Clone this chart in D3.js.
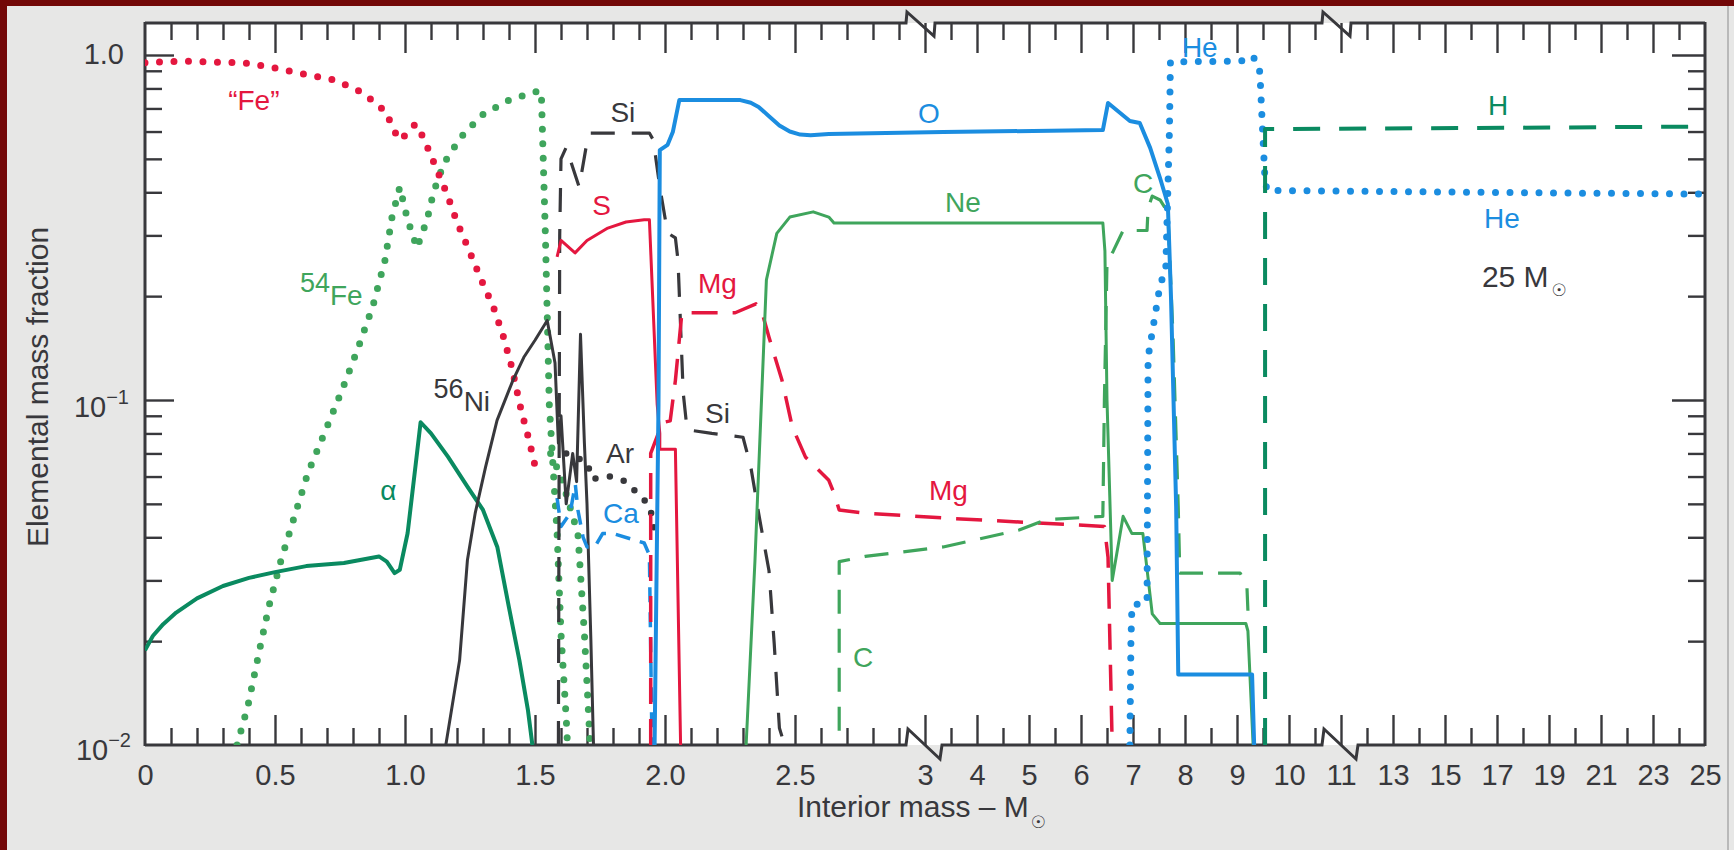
<!DOCTYPE html>
<html>
<head>
<meta charset="utf-8">
<script src="https://cdn.jsdelivr.net/npm/d3@7"></script>
<style>
html, body { margin: 0; padding: 0; background: #730808; }
svg { display: block; }
text { font-family: "Liberation Sans", Arial, Helvetica, sans-serif; }
</style>
</head>
<body>
<svg id="chart" width="1734" height="850"></svg>
<script>
// --- data: [interior mass (Msun), mass fraction] ---
var FE = [[0,0.95],[0.15,0.96],[0.385,0.948],[0.5,0.917],[0.61,0.881],[0.73,0.846],[0.84,0.776],
  [0.93,0.68],[0.95,0.618],[0.98,0.567],[1.01,0.594],[1.04,0.631],[1.07,0.578],[1.115,0.48],[1.16,0.398],
  [1.2,0.328],[1.246,0.272],[1.29,0.226],[1.34,0.186],[1.377,0.154],[1.41,0.125],[1.446,0.094],
  [1.477,0.0766],[1.504,0.0626]];
var FE54 = [[0.354,0.01],[0.396,0.013],[0.442,0.0191],[0.477,0.0253],[0.523,0.0343],[0.573,0.0455],
  [0.627,0.0616],[0.692,0.0808],[0.758,0.107],[0.819,0.141],[0.877,0.188],[0.923,0.254],[0.95,0.339],
  [0.98,0.414],[1.01,0.333],[1.046,0.276],[1.085,0.333],[1.11,0.401],[1.15,0.486],[1.215,0.578],
  [1.296,0.67],[1.4,0.74],[1.52,0.79],[1.525,0.75],[1.54,0.3],[1.555,0.097],[1.585,0.041],[1.6,0.021],
  [1.62,0.012],[1.625,0.01]];
var FE54_INNER = [[1.56,0.07],[1.6,0.06],[1.665,0.041],[1.69,0.021],[1.71,0.0108],[1.712,0.01]];
var ALPHA = [[0,0.0188],[0.03,0.0207],[0.07,0.0224],[0.12,0.0242],[0.2,0.0266],[0.3,0.0289],[0.4,0.0305],
  [0.5,0.0317],[0.62,0.033],[0.765,0.0337],[0.9,0.0352],[0.93,0.034],[0.96,0.0315],[0.98,0.0322],
  [1.01,0.0411],[1.04,0.064],[1.06,0.0862],[1.1,0.08],[1.165,0.0685],[1.24,0.0561],[1.3,0.048],
  [1.355,0.0375],[1.4,0.025],[1.44,0.0176],[1.473,0.0126],[1.49,0.01]];
var NI56 = [[1.157,0.01],[1.21,0.0176],[1.24,0.0343],[1.27,0.047],[1.31,0.064],[1.354,0.0873],
  [1.415,0.114],[1.457,0.133],[1.5,0.149],[1.547,0.17],[1.577,0.128],[1.59,0.075],[1.6,0.09],[1.62,0.05],
  [1.645,0.07],[1.66,0.058],[1.675,0.155],[1.69,0.075],[1.7,0.05],[1.715,0.02],[1.725,0.01]];
var SI = [[1.59,0.01],[1.595,0.3],[1.6,0.5],[1.62,0.54],[1.67,0.414],[1.7,0.56],[1.71,0.594],[1.94,0.594],
  [1.955,0.567],[1.98,0.414],[2.01,0.305],[2.04,0.295],[2.05,0.254],[2.07,0.105],[2.085,0.082],[2.18,0.08],
  [2.3,0.078],[2.33,0.064],[2.36,0.047],[2.4,0.032],[2.42,0.0197],[2.44,0.0112],[2.46,0.01]];
var S = [[1.585,0.26],[1.6,0.29],[1.654,0.267],[1.7,0.29],[1.78,0.315],[1.85,0.328],[1.92,0.333],
  [1.94,0.333],[1.97,0.097],[1.98,0.08],[1.98,0.072],[2.04,0.072],[2.06,0.01]];
var AR = [[1.62,0.07],[1.66,0.068],[1.7,0.066],[1.72,0.059],[1.79,0.06],[1.85,0.058],[1.89,0.054],
  [1.935,0.05],[1.955,0.045],[1.96,0.04]];
var CA = [[1.585,0.052],[1.6,0.043],[1.635,0.047],[1.655,0.057],[1.665,0.048],[1.685,0.04],[1.7,0.0375],
  [1.73,0.0375],[1.76,0.041],[1.8,0.041],[1.92,0.0385],[1.94,0.0355],[1.95,0.01]];
var MG = [[1.945,0.01],[1.945,0.07],[1.99,0.086],[2.02,0.087],[2.04,0.114],[2.065,0.179],[2.27,0.179],
  [2.35,0.19],[2.37,0.183],[2.4,0.152],[2.45,0.114],[2.49,0.0834],[2.54,0.0684],[2.63,0.0585],
  [2.65,0.0537],[2.67,0.048],[2.77,0.047],[3.35,0.0455],[4.81,0.0443],[6.45,0.043],[6.52,0.035],[6.6,0.01]];
var O = [[1.96,0.01],[1.975,0.097],[1.98,0.53],[2.01,0.549],[2.03,0.598],[2.055,0.74],[2.29,0.74],
  [2.33,0.727],[2.36,0.707],[2.4,0.665],[2.44,0.625],[2.48,0.6],[2.52,0.588],[2.56,0.585],[2.63,0.59],
  [3.35,0.598],[6.42,0.606],[6.52,0.726],[6.94,0.644],[7.13,0.635],[7.33,0.538],[7.52,0.44],[7.67,0.37],
  [7.73,0.2],[7.83,0.049],[7.87,0.016],[9.29,0.016],[9.33,0.01]];
var NE = [[2.312,0.01],[2.346,0.0342],[2.39,0.223],[2.43,0.304],[2.48,0.339],[2.57,0.351],[2.63,0.339],
  [2.65,0.326],[6.42,0.326],[6.46,0.27],[6.5,0.1],[6.6,0.03],[6.81,0.046],[6.98,0.041],[7.19,0.041],
  [7.37,0.024],[7.52,0.0225],[9.17,0.0225],[9.21,0.0214],[9.31,0.01]];
var C = [[2.67,0.011],[2.67,0.034],[2.77,0.0352],[3.35,0.0375],[4.81,0.042],[5.33,0.045],[6.42,0.046],
  [6.45,0.1],[6.5,0.25],[6.62,0.27],[6.81,0.31],[7.27,0.31],[7.29,0.36],[7.37,0.39],[7.52,0.38],
  [7.67,0.35],[7.77,0.153],[7.87,0.049],[7.9,0.0315],[9.06,0.0315],[9.19,0.029],[9.21,0.0245]];
var HE = [[6.94,0.01],[6.96,0.02],[6.98,0.0254],[7.27,0.026],[7.29,0.133],[7.52,0.215],[7.63,0.24],
  [7.7,0.6],[7.72,0.955],[9.0,0.96],[9.23,0.967],[9.3,0.99],[9.4,0.95],[9.44,0.89],[9.48,0.66],
  [9.54,0.43],[9.58,0.405],[25,0.395]];
var H = [[9.54,0.01],[9.54,0.61],[25,0.62]];

// tick labels along the broken mass axis
var X_TICK_VALUES = [0,0.5,1,1.5,2,2.5,3,4,5,6,7,8,9,10,11,13,15,17,19,21,23,25];
var X_TICK_LABELS = ["0","0.5","1.0","1.5","2.0","2.5","3","4","5","6","7","8","9","10","11","13","15","17","19","21","23","25"];
var Y_MAJOR = [1, 0.1];
var Y_MINOR = [0.9,0.8,0.7,0.6,0.5,0.4,0.3,0.2,0.09,0.08,0.07,0.06,0.05,0.04,0.03,0.02];

var RED = "#e4173f", BLUE = "#1b8de0", GREEN = "#3fa55c", DKGREEN = "#0a8a60", GREY = "#38383c";

var series = [
  {data: FE54, color: GREEN, style: "dot"},
  {data: FE54_INNER, color: GREEN, style: "dot"},
  {data: FE, color: RED, style: "dot"},
  {data: ALPHA, color: DKGREEN, style: "solid", w: 4},
  {data: NI56, color: GREY, style: "solid", w: 3},
  {data: AR, color: GREY, style: "dot", w: 6.5},
  {data: CA, color: BLUE, style: "dash", dash: "15 10", w: 3.5},
  {data: SI, color: GREY, style: "dash", dash: "24 17", w: 3.2},
  {data: S, color: RED, style: "solid", w: 3},
  {data: MG, color: RED, style: "dash", dash: "26 15", w: 3.5},
  {data: NE, color: GREEN, style: "solid", w: 3},
  {data: C, color: GREEN, style: "dash", dash: "24 15", w: 3.2},
  {data: O, color: BLUE, style: "solid", w: 4},
  {data: HE, color: BLUE, style: "dot"},
  {data: H, color: DKGREEN, style: "dash", dash: "27 19", w: 4}
];

var labels = [
  {t: "\u201CFe\u201D", x: 0.32, y: 0.693, c: RED},
  {t: "Fe", sup: "54", x: 0.596, y: 0.188, c: GREEN},
  {t: "\u03B1", x: 0.905, y: 0.0514, c: DKGREEN},
  {t: "Ni", sup: "56", x: 1.11, y: 0.0929, c: GREY},
  {t: "Si", x: 1.79, y: 0.64, c: GREY},
  {t: "S", x: 1.72, y: 0.344, c: RED},
  {t: "Ar", x: 1.773, y: 0.0656, c: GREY},
  {t: "Ca", x: 1.762, y: 0.0441, c: BLUE},
  {t: "Mg", x: 2.127, y: 0.204, c: RED},
  {t: "Si", x: 2.154, y: 0.0858, c: GREY},
  {t: "C", x: 2.723, y: 0.0168, c: GREEN},
  {t: "O", x: 2.973, y: 0.635, c: BLUE},
  {t: "Ne", x: 3.385, y: 0.35, c: GREEN},
  {t: "Mg", x: 3.077, y: 0.0514, c: RED},
  {t: "C", x: 7.0, y: 0.398, c: GREEN},
  {t: "He", x: 7.94, y: 0.987, c: BLUE},
  {t: "H", x: 16.65, y: 0.67, c: DKGREEN},
  {t: "He", x: 16.5, y: 0.315, c: BLUE}
];

var svg = d3.select("#chart");
var L = 145, R = 1705, T = 23, B = 745;

// piecewise scale: 0-3 and 3-11 and 11-25 each with its own stretch
var x = d3.scaleLinear().domain([0, 3, 11, 25]).range([L, 925, 1341, R]);
var y = d3.scaleLog().domain([0.01, 1]).range([B, 55]);

svg.append("rect").attr("x", 7).attr("y", 6).attr("width", 1727).attr("height", 844).attr("fill", "#e7e7e6");
svg.append("line").attr("x1", 1728).attr("x2", 1728).attr("y1", 6).attr("y2", 850)
  .attr("stroke", "#b9b9b9").attr("stroke-width", 2);
svg.append("rect").attr("x", L).attr("y", T).attr("width", R - L).attr("height", B - T).attr("fill", "#ffffff");

svg.append("clipPath").attr("id", "plot").append("rect")
  .attr("x", L).attr("y", T).attr("width", R - L).attr("height", B - T);

// ticks
var minorX = d3.range(1, 30).map(function(i) { return i / 10; }).filter(function(v) { return Math.round(v * 10) % 5 != 0; })
  .concat(d3.range(3.5, 11, 1))
  .concat(d3.range(12, 25, 2));
var majorX = [0.5,1,1.5,2,2.5,3,4,5,6,7,8,9,10,11,13,15,17,19,21,23];

function tickAxis(axis, vals, size) {
  return function(g) {
    g.call(axis.tickValues(vals).tickSize(size).tickFormat(""));
    g.select(".domain").remove();
    g.selectAll(".tick line").attr("stroke", GREY).attr("stroke-width", 2.4);
  };
}
svg.append("g").attr("transform", "translate(0," + B + ")").call(tickAxis(d3.axisBottom(x), majorX, -30));
svg.append("g").attr("transform", "translate(0," + B + ")").call(tickAxis(d3.axisBottom(x), minorX, -17));
svg.append("g").attr("transform", "translate(0," + T + ")").call(tickAxis(d3.axisTop(x), majorX, -30));
svg.append("g").attr("transform", "translate(0," + T + ")").call(tickAxis(d3.axisTop(x), minorX, -17));
svg.append("g").attr("transform", "translate(" + L + ",0)").call(tickAxis(d3.axisLeft(y), Y_MAJOR, -29));
svg.append("g").attr("transform", "translate(" + L + ",0)").call(tickAxis(d3.axisLeft(y), Y_MINOR, -17));
svg.append("g").attr("transform", "translate(" + R + ",0)").call(tickAxis(d3.axisRight(y), Y_MAJOR, -33));
svg.append("g").attr("transform", "translate(" + R + ",0)").call(tickAxis(d3.axisRight(y), Y_MINOR, -17));

// frame with the two axis breaks
var x3 = x(3), x11 = x(11);
function topBreak(p, xb) {
  p.lineTo(xb - 19, T); p.lineTo(xb - 18, T - 11); p.lineTo(xb + 9, T + 13); p.lineTo(xb + 10, T);
}
function botBreak(p, xb) {
  p.lineTo(xb - 19, B); p.lineTo(xb - 17, B - 16); p.lineTo(xb + 15, B + 14); p.lineTo(xb + 17, B);
}
var topPath = d3.path(); topPath.moveTo(L, T); topBreak(topPath, x3); topBreak(topPath, x11); topPath.lineTo(R, T);
var botPath = d3.path(); botPath.moveTo(L, B); botBreak(botPath, x3); botBreak(botPath, x11); botPath.lineTo(R, B);
var frame = svg.append("g").attr("fill", "none").attr("stroke", GREY).attr("stroke-width", 3)
  .attr("stroke-linejoin", "miter");
frame.append("path").attr("d", topPath.toString());
frame.append("path").attr("d", botPath.toString());
frame.append("line").attr("x1", L).attr("x2", L).attr("y1", T - 1).attr("y2", B + 1);
frame.append("line").attr("x1", R).attr("x2", R).attr("y1", T - 1).attr("y2", B + 1);

// tick labels
svg.append("g").attr("transform", "translate(0," + B + ")")
  .call(d3.axisBottom(x).tickValues(X_TICK_VALUES).tickSize(0).tickPadding(0)
    .tickFormat(function(d, i) { return X_TICK_LABELS[i]; }))
  .call(function(g) {
    g.select(".domain").remove();
    g.selectAll("text").attr("dy", null).attr("y", 40).attr("fill", GREY)
      .style("font-size", "29px").style("font-family", "'Liberation Sans', Arial, sans-serif");
  });

var yl = svg.append("g").attr("fill", GREY).style("font-size", "29px").attr("text-anchor", "end");
yl.append("text").attr("x", 124).attr("y", y(1) + 9).text("1.0");
[[0.1, 129, 17, "\u22121"], [0.01, 131, 15, "\u22122"]].forEach(function(r) {
  var t = yl.append("text").attr("x", r[1]).attr("y", y(r[0]) + r[2]);
  t.append("tspan").text("10");
  t.append("tspan").attr("dy", -13).style("font-size", "20px").text(r[3]);
});

svg.append("text").attr("transform", "translate(48,387) rotate(-90)").attr("text-anchor", "middle")
  .attr("fill", GREY).style("font-size", "30px").text("Elemental mass fraction");
var xt = svg.append("text").attr("x", 797).attr("y", 817).attr("fill", GREY).style("font-size", "30px");
xt.append("tspan").text("Interior mass \u2013 M");
xt.append("tspan").attr("dy", 11).attr("dx", 2).style("font-size", "17px")
  .style("font-family", "'DejaVu Sans'").text("\u2609");

// curves
var line = d3.line().x(function(d) { return x(d[0]); }).y(function(d) { return y(d[1]); });
var plot = svg.append("g").attr("clip-path", "url(#plot)").attr("fill", "none");
series.forEach(function(s) {
  var p = plot.append("path").attr("d", line(s.data)).attr("stroke", s.color)
    .attr("stroke-linejoin", "round");
  if (s.style == "dot") {
    p.attr("stroke-width", s.w || 7).attr("stroke-dasharray", "0 14.5").attr("stroke-linecap", "round");
  } else if (s.style == "dash") {
    p.attr("stroke-width", s.w).attr("stroke-dasharray", s.dash).attr("stroke-linecap", "butt");
  } else {
    p.attr("stroke-width", s.w).attr("stroke-linecap", "butt");
  }
});

// in-plot labels
var lg = svg.append("g").style("font-size", "28px");
labels.forEach(function(d) {
  var t = lg.append("text").attr("x", x(d.x)).attr("y", y(d.y)).attr("fill", d.c);
  if (d.sup) {
    t.append("tspan").attr("dy", -13).style("font-size", "27px").text(d.sup);
    t.append("tspan").attr("dy", 13).text(d.t);
  } else {
    t.text(d.t);
  }
});
var m = lg.append("text").attr("x", x(16.42)).attr("y", y(0.213)).attr("fill", GREY).style("font-size", "30px");
m.append("tspan").text("25 M");
m.append("tspan").attr("dy", 9).attr("dx", 3).style("font-size", "17px")
  .style("font-family", "'DejaVu Sans'").text("\u2609");
</script>
</body>
</html>
